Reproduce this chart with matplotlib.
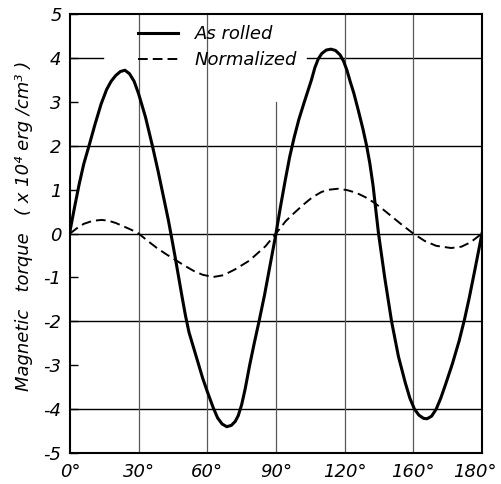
import matplotlib
matplotlib.use("Agg")
import matplotlib.pyplot as plt
import matplotlib.transforms as mtransforms

# angles (deg) and torque (x10^4 erg/cm^3)
ang_rolled = [0, 2, 4, 6, 8.6, 11, 13.6, 16, 18, 20, 22, 24, 26, 28, 30, 33, 36,
              38.5, 41, 43, 44.5, 46, 47.5, 49, 50.5, 52, 54, 56, 58, 60, 62.6,
              64.5, 66.5, 68.5, 70.5, 72.2, 73.5, 75, 76.5, 78.5, 80.5, 82.6,
              85, 87.5, 90, 92, 94, 96, 98, 100, 102.4, 105.5, 107, 108.5, 110,
              112, 114, 116, 118, 119.5, 121, 122.5, 124, 126, 128, 129.6, 131,
              132.4, 133.7, 134.8, 137.5, 140.5, 143.5, 146.5, 148.5, 150.5,
              152.5, 154.5, 156, 158, 160, 162, 164, 167, 170, 172.4, 174.5, 177, 180]
torque_rolled = [0.05, 0.6, 1.12, 1.58, 2.05, 2.5, 2.95, 3.28, 3.47, 3.6, 3.69, 3.72,
                 3.64, 3.47, 3.18, 2.65, 2.0, 1.42, 0.8, 0.3, -0.12, -0.55, -1.0,
                 -1.45, -1.88, -2.25, -2.6, -2.95, -3.3, -3.6, -3.97, -4.2, -4.34,
                 -4.4, -4.37, -4.28, -4.15, -3.9, -3.55, -3.0, -2.5, -2.0, -1.4,
                 -0.7, 0.0, 0.62, 1.2, 1.75, 2.2, 2.6, 3.0, 3.5, 3.78, 3.98, 4.1,
                 4.18, 4.2, 4.17, 4.07, 3.93, 3.72, 3.45, 3.2, 2.8, 2.38, 2.0, 1.6,
                 1.1, 0.5, 0.0, -1.0, -2.0, -2.8, -3.4, -3.75, -4.0, -4.14, -4.21,
                 -4.22, -4.16, -4.0, -3.75, -3.45, -2.98, -2.45, -1.95, -1.45, -0.8, 0.0]

ang_norm = [0, 3, 6, 10, 13.8, 17, 20, 24, 27, 30, 34, 38, 42, 46, 50, 54, 58,
            62.6, 67, 72, 78.3, 85.4, 90, 94.2, 98, 102, 106, 110, 113.5, 117,
            121, 125, 129, 133, 137, 141, 145, 150, 155, 160, 166.5, 171, 175, 180]
torque_norm = [0.0, 0.12, 0.22, 0.29, 0.31, 0.29, 0.24, 0.15, 0.08, 0.0, -0.17,
               -0.33, -0.47, -0.6, -0.73, -0.85, -0.94, -0.99, -0.95, -0.82, -0.62,
               -0.29, 0.0, 0.28, 0.47, 0.66, 0.83, 0.95, 1.0, 1.02, 0.99, 0.93,
               0.83, 0.7, 0.54, 0.37, 0.2, 0.0, -0.17, -0.28, -0.33, -0.3, -0.2, 0.0]

xticks = [0, 30, 60, 90, 120, 150, 180]
xtick_labels = ["0°", "30°", "60°", "90°", "120°", "160°", "180°"]
yticks = [5, 4, 3, 2, 1, 0, -1, -2, -3, -4, -5]
ytick_labels = ["5", "4", "3", "2", "1", "0", "-1", "-2", "-3", "-4", "-5"]

plt.rcParams['font.family'] = 'DejaVu Sans'
plt.rcParams['font.style'] = 'italic'

fig = plt.figure(figsize=(5.02, 4.84), dpi=100)
ax = fig.add_axes([0.1394, 0.064, 0.8207, 0.907])

# grid lines (some are broken in the original by the lettering)
for yv in [2, 0, -2, -4]:
    ax.axhline(yv, color='black', lw=1.0, zorder=1)
ax.axhline(4, xmin=0, xmax=0.08, color='black', lw=1.0, zorder=1)
ax.axhline(4, xmin=0.575, xmax=1, color='black', lw=1.0, zorder=1)
for xv in [30, 60, 120, 150]:
    ax.axvline(xv, color='0.35', lw=0.9, zorder=1)
ax.axvline(90, ymax=0.8, color='0.35', lw=0.9, zorder=1)

ax.plot(ang_rolled, torque_rolled, color='black', lw=2.2, label='As rolled',
        solid_joinstyle='round', zorder=3)
ax.plot(ang_norm, torque_norm, color='black', lw=1.4, dashes=(5, 2.6),
        label='Normalized', zorder=3)

ax.set_xlim(0, 180)
ax.set_ylim(-5, 5)
ax.set_xticks(xticks)
ax.set_xticklabels(xtick_labels, fontsize=13)
ax.set_yticks(yticks)
ax.set_yticklabels(ytick_labels, fontsize=13)
ax.tick_params(axis='x', length=0, pad=7)
ax.tick_params(axis='y', direction='in', length=6, width=1.0, pad=6)
for sp in ax.spines.values():
    sp.set_linewidth(1.5)

# last label sits right on the page edge, nudge it in a little
last = ax.get_xticklabels()[-1]
last.set_transform(last.get_transform() + mtransforms.ScaledTranslation(-5 / 72, 0, fig.dpi_scale_trans))

ax.legend(loc='upper left', bbox_to_anchor=(0.165, 0.975), frameon=False,
          fontsize=13, handlelength=2.2, handletextpad=0.95, borderpad=0,
          borderaxespad=0, labelspacing=0.45)

fig.text(0.048, 1 - 226 / 484, "Magnetic   torque   ( x 10⁴ erg /cm³ )",
         rotation=90, ha='center', va='center', fontsize=13)

fig.savefig("out.png", dpi=100)
